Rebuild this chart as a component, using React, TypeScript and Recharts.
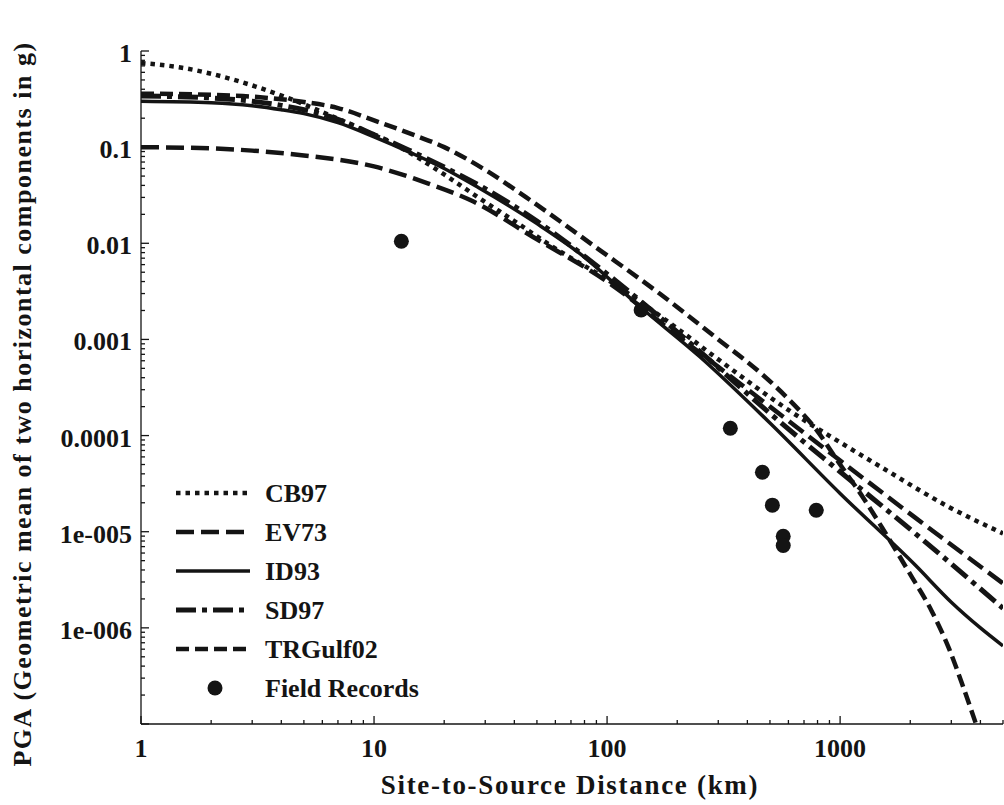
import React from 'react';
import { ComposedChart, Line, Scatter, XAxis, YAxis, Legend } from 'recharts';

const FONT = '"Liberation Serif", "Times New Roman", serif';
const INK = '#141414';

// distance (km) / PGA (g) pairs
const cb97Dist = [1, 1.5, 2, 2.9, 4.2, 6.6, 9.3, 12.9, 20, 28, 40, 58, 105, 200, 300, 620, 1000, 1500, 2940, 5000];
const cb97Pga = [0.75, 0.67, 0.58, 0.45, 0.33, 0.21, 0.145, 0.1, 0.052, 0.03, 0.017, 0.0093, 0.0039, 0.0013, 0.00062, 0.000175, 0.000085, 0.000047, 0.000018, 0.0000096];

const ev73Dist = [1, 2, 3, 5, 10, 17, 26, 50, 100, 200, 500, 1000, 2100, 5000];
const ev73Pga = [0.1, 0.097, 0.092, 0.082, 0.063, 0.042, 0.028, 0.011, 0.004, 0.0011, 0.0002, 0.000055, 0.000014, 0.0000029];

const id93Dist = [1, 2, 3, 4, 5, 7, 10, 14, 20, 28, 50, 76, 138, 250, 500, 1000, 2100, 3000, 4000, 5000];
const id93Pga = [0.3, 0.29, 0.27, 0.245, 0.223, 0.18, 0.128, 0.09, 0.06, 0.038, 0.016, 0.0079, 0.0022, 0.00066, 0.000135, 0.000025, 0.0000045, 0.00000185, 0.000001, 0.00000065];

const sd97Dist = [1, 2, 3, 4, 5, 7, 10, 14, 20, 30, 50, 100, 250, 500, 1000, 2100, 5000];
const sd97Pga = [0.34, 0.325, 0.3, 0.272, 0.245, 0.195, 0.135, 0.094, 0.062, 0.037, 0.017, 0.0048, 0.00075, 0.00017, 0.000042, 0.0000096, 0.0000016];

const trDist = [1, 2, 3, 4, 5, 7, 10, 14.7, 20, 30, 45, 93, 168, 300, 450, 600, 790, 1000, 1250, 1515, 2000, 2470, 2940, 3380, 3830];
const trPga = [0.36, 0.35, 0.335, 0.315, 0.295, 0.255, 0.19, 0.135, 0.1, 0.058, 0.03, 0.0085, 0.003, 0.001, 0.00046, 0.00024, 0.000115, 0.00005, 0.000023, 0.000011, 0.0000036, 0.0000015, 0.0000006, 0.00000024, 0.0000001];

const fieldDist = [13.1, 140, 338, 464, 512, 790, 570, 570];
const fieldPga = [0.0105, 0.00202, 0.000119, 0.0000416, 0.0000189, 0.0000167, 0.00000897, 0.0000072];

const xMajor = [1, 10, 100, 1000];
const xLabels = ['1', '10', '100', '1000'];
const yMajor = [1e-7, 1e-6, 1e-5, 1e-4, 1e-3, 1e-2, 1e-1, 1];
const yLabels = ['', '1e-006', '1e-005', '0.0001', '0.001', '0.01', '0.1', '1'];

const pairs = (d: number[], p: number[]) => d.map((dist, i) => ({ dist, pga: p[i] }));

const series = [
  { name: 'CB97', data: pairs(cb97Dist, cb97Pga), dash: '4.5 5', width: 4.5 },
  { name: 'EV73', data: pairs(ev73Dist, ev73Pga), dash: '18 7', width: 4.5 },
  { name: 'ID93', data: pairs(id93Dist, id93Pga), dash: undefined, width: 3.5 },
  { name: 'SD97', data: pairs(sd97Dist, sd97Pga), dash: '20 6 5 6', width: 5 },
  { name: 'TRGulf02', data: pairs(trDist, trPga), dash: '13 6', width: 4.5 },
];
const fieldData = pairs(fieldDist, fieldPga);

// major + minor tick positions for log axes
const xTicks: number[] = [];
xMajor.forEach((m) => {
  for (let k = 1; k <= 9; k++) if (m * k <= 5000) xTicks.push(m * k);
});
const yTicks: number[] = [];
yMajor.forEach((m) => {
  for (let k = 1; k <= 9; k++) if (m * k <= 1) yTicks.push(m * k);
});

const isMajor = (v: number, majors: number[]) => majors.some((m) => Math.abs(v / m - 1) < 1e-6);

const BottomTick = (props: any) => {
  const { x, y, payload } = props;
  const idx = xMajor.findIndex((m) => Math.abs(payload.value / m - 1) < 1e-6);
  const len = idx >= 0 ? 8 : 4;
  return (
    <g>
      <line x1={x} y1={y} x2={x} y2={y - len} stroke={INK} strokeWidth={1.3} />
      {idx >= 0 && (
        <text x={x} y={y + 33} textAnchor="middle" fontFamily={FONT} fontWeight="bold" fontSize={26} fill={INK}>
          {xLabels[idx]}
        </text>
      )}
    </g>
  );
};

const TopTick = (props: any) => {
  const { x, y, payload } = props;
  const len = isMajor(payload.value, xMajor) ? 8 : 4;
  return <line x1={x} y1={y} x2={x} y2={y + len} stroke={INK} strokeWidth={1.3} />;
};

const LeftTick = (props: any) => {
  const { x, y, payload } = props;
  const idx = yMajor.findIndex((m) => Math.abs(payload.value / m - 1) < 1e-6);
  const len = idx >= 0 ? 8 : 4;
  return (
    <g>
      <line x1={x} y1={y} x2={x + len} y2={y} stroke={INK} strokeWidth={1.3} />
      {idx >= 0 && yLabels[idx] && (
        <text x={x - 9} y={y + 11} textAnchor="end" fontFamily={FONT} fontWeight="bold" fontSize={26} fill={INK}>
          {yLabels[idx]}
        </text>
      )}
    </g>
  );
};

const RightTick = (props: any) => {
  const { x, y, payload } = props;
  const len = isMajor(payload.value, yMajor) ? 8 : 4;
  return <line x1={x} y1={y} x2={x - len} y2={y} stroke={INK} strokeWidth={1.3} />;
};

const Dot = (props: any) => <circle cx={props.cx} cy={props.cy} r={7.5} fill={INK} />;

const LegendBox = () => (
  <svg width={320} height={240} style={{ display: 'block' }}>
    {series.map((s, i) => (
      <g key={s.name}>
        <line x1={6} x2={80} y1={23 + i * 39} y2={23 + i * 39} stroke={INK} strokeWidth={s.width} strokeDasharray={s.dash} />
        <text x={95} y={23 + i * 39 + 9} fontFamily={FONT} fontWeight="bold" fontSize={26} fill={INK}>
          {s.name}
        </text>
      </g>
    ))}
    <circle cx={45} cy={23 + 5 * 39} r={7.5} fill={INK} />
    <text x={95} y={23 + 5 * 39 + 9} fontFamily={FONT} fontWeight="bold" fontSize={26} fill={INK}>
      Field Records
    </text>
  </svg>
);

export default function App() {
  return (
    <div style={{ position: 'absolute', left: 0, top: 0, background: '#fff' }}>
      <ComposedChart width={1004} height={805} margin={{ top: 51, right: 1, bottom: 0, left: 0 }}>
        <XAxis
          dataKey="dist"
          type="number"
          scale="log"
          domain={[1, 5000]}
          allowDataOverflow
          ticks={xTicks}
          interval={0}
          height={81}
          tickSize={0}
          tickMargin={0}
          tickLine={false}
          tick={<BottomTick />}
          stroke={INK}
          strokeWidth={1.3}
          label={() => (
            <text x={570} y={794} textAnchor="middle" fontFamily={FONT} fontWeight="bold" fontSize={27} letterSpacing={1.7} fill={INK}>
              Site-to-Source Distance (km)
            </text>
          )}
        />
        <XAxis
          xAxisId="top"
          orientation="top"
          type="number"
          scale="log"
          domain={[1, 5000]}
          allowDataOverflow
          ticks={xTicks}
          interval={0}
          height={0}
          tickSize={0}
          tickMargin={0}
          tickLine={false}
          tick={<TopTick />}
          stroke={INK}
          strokeWidth={1.3}
        />
        <YAxis
          type="number"
          scale="log"
          domain={[1e-7, 1]}
          allowDataOverflow
          ticks={yTicks}
          interval={0}
          width={141}
          tickSize={0}
          tickMargin={0}
          tickLine={false}
          tick={<LeftTick />}
          stroke={INK}
          strokeWidth={1.3}
          label={() => (
            <text
              x={22}
              y={404}
              transform="rotate(-90 22 404)"
              textAnchor="middle"
              dominantBaseline="central"
              fontFamily={FONT}
              fontWeight="bold"
              fontSize={26}
              letterSpacing={1.5}
              fill={INK}
            >
              PGA (Geometric mean of two horizontal components in g)
            </text>
          )}
        />
        <YAxis
          yAxisId="right"
          orientation="right"
          type="number"
          scale="log"
          domain={[1e-7, 1]}
          allowDataOverflow
          ticks={yTicks}
          interval={0}
          width={0}
          tickSize={0}
          tickMargin={0}
          tickLine={false}
          tick={<RightTick />}
          stroke={INK}
          strokeWidth={1.3}
        />
        {series.map((s) => (
          <Line
            key={s.name}
            data={s.data}
            dataKey="pga"
            name={s.name}
            type="monotone"
            stroke={INK}
            strokeWidth={s.width}
            strokeDasharray={s.dash}
            dot={false}
            activeDot={false}
            isAnimationActive={false}
          />
        ))}
        <Scatter data={fieldData} dataKey="pga" name="Field Records" shape={<Dot />} isAnimationActive={false} />
        <Legend
          layout="vertical"
          align="center"
          verticalAlign="middle"
          content={() => <LegendBox />}
          wrapperStyle={{ left: 170, top: 470, width: 320, height: 240 }}
        />
      </ComposedChart>
    </div>
  );
}
